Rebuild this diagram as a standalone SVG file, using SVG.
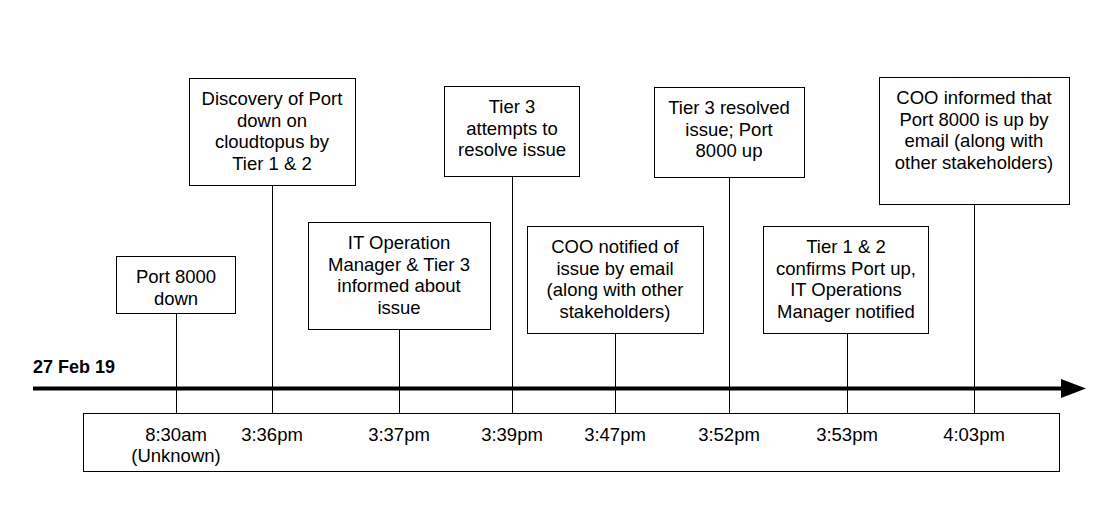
<svg xmlns="http://www.w3.org/2000/svg" width="1119" height="506" viewBox="0 0 1119 506">
<style>
  .box { fill: #ffffff; stroke: #000000; stroke-width: 1; }
  .conn { stroke: #000000; stroke-width: 1; fill: none; }
  .t { font-family: "Liberation Sans", Arial, sans-serif; font-size: 18.5px; fill: #000000; text-anchor: middle; }
  .date { font-family: "Liberation Sans", Arial, sans-serif; font-size: 18px; font-weight: bold; fill: #000000; }
</style>
<defs>
  <marker id="ah" markerUnits="userSpaceOnUse" markerWidth="26" markerHeight="20" refX="1" refY="10" orient="auto">
    <path d="M0,0.5 L25,10 L0,19.5 Z" fill="#000000"/>
  </marker>
</defs>
<rect width="1119" height="506" fill="#ffffff"/>

<g id="time-panel">
  <rect class="box" x="83.5" y="413.5" width="976" height="58"/>
  <text class="t" x="176" y="441">8:30am</text>
  <text class="t" x="176" y="462">(Unknown)</text>
  <text class="t" x="272" y="441">3:36pm</text>
  <text class="t" x="399" y="441">3:37pm</text>
  <text class="t" x="512" y="441">3:39pm</text>
  <text class="t" x="615" y="441">3:47pm</text>
  <text class="t" x="729" y="441">3:52pm</text>
  <text class="t" x="847" y="441">3:53pm</text>
  <text class="t" x="974" y="441">4:03pm</text>
</g>

<g id="connectors">
  <line class="conn" x1="176.5" y1="313" x2="176.5" y2="413"/>
  <line class="conn" x1="272.5" y1="185" x2="272.5" y2="413"/>
  <line class="conn" x1="399.5" y1="329" x2="399.5" y2="413"/>
  <line class="conn" x1="512.5" y1="176" x2="512.5" y2="413"/>
  <line class="conn" x1="615.5" y1="333" x2="615.5" y2="413"/>
  <line class="conn" x1="729.5" y1="177" x2="729.5" y2="413"/>
  <line class="conn" x1="847.5" y1="333" x2="847.5" y2="413"/>
  <line class="conn" x1="974.5" y1="204" x2="974.5" y2="413"/>
</g>

<g id="timeline">
  <line x1="33" y1="388.5" x2="1062" y2="388.5" stroke="#000000" stroke-width="4" marker-end="url(#ah)"/>
  <text class="date" x="33" y="373">27 Feb 19</text>
</g>

<g id="node-port-down">
  <rect class="box" x="116.5" y="256.5" width="119" height="57"/>
  <text class="t" x="176" y="283">Port 8000</text>
  <text class="t" x="176" y="304.7">down</text>
</g>

<g id="node-discovery">
  <rect class="box" x="189.5" y="78.5" width="166" height="107"/>
  <text class="t" x="272" y="105">Discovery of Port</text>
  <text class="t" x="272" y="126.7">down on</text>
  <text class="t" x="272" y="148.4">cloudtopus by</text>
  <text class="t" x="272" y="170.1">Tier 1 &amp; 2</text>
</g>

<g id="node-it-informed">
  <rect class="box" x="308.5" y="222.5" width="182" height="107"/>
  <text class="t" x="399" y="249">IT Operation</text>
  <text class="t" x="399" y="270.7">Manager &amp; Tier 3</text>
  <text class="t" x="399" y="292.4">informed about</text>
  <text class="t" x="399" y="314.1">issue</text>
</g>

<g id="node-tier3-attempts">
  <rect class="box" x="444.5" y="86.5" width="135" height="90"/>
  <text class="t" x="512" y="113">Tier 3</text>
  <text class="t" x="512" y="134.7">attempts to</text>
  <text class="t" x="512" y="156.4">resolve issue</text>
</g>

<g id="node-coo-notified">
  <rect class="box" x="527.5" y="226.5" width="176" height="107"/>
  <text class="t" x="615" y="253">COO notified of</text>
  <text class="t" x="615" y="274.7">issue by email</text>
  <text class="t" x="615" y="296.4">(along with other</text>
  <text class="t" x="615" y="318.1">stakeholders)</text>
</g>

<g id="node-tier3-resolved">
  <rect class="box" x="654.5" y="87.5" width="150" height="90"/>
  <text class="t" x="729" y="114">Tier 3 resolved</text>
  <text class="t" x="729" y="135.7">issue; Port</text>
  <text class="t" x="729" y="157.4">8000 up</text>
</g>

<g id="node-tier12-confirms">
  <rect class="box" x="763.5" y="226.5" width="165" height="107"/>
  <text class="t" x="846" y="253">Tier 1 &amp; 2</text>
  <text class="t" x="846" y="274.7">confirms Port up,</text>
  <text class="t" x="846" y="296.4">IT Operations</text>
  <text class="t" x="846" y="318.1">Manager notified</text>
</g>

<g id="node-coo-informed">
  <rect class="box" x="879.5" y="77.5" width="190" height="127"/>
  <text class="t" x="974" y="104">COO informed that</text>
  <text class="t" x="974" y="125.7">Port 8000 is up by</text>
  <text class="t" x="974" y="147.4">email (along with</text>
  <text class="t" x="974" y="169.1">other stakeholders)</text>
</g>
</svg>
